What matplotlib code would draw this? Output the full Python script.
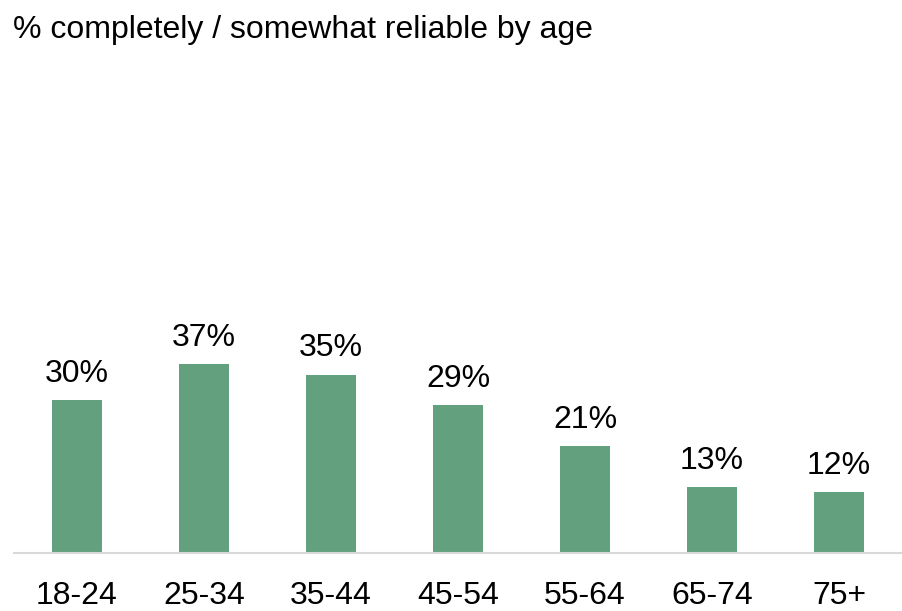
import matplotlib
matplotlib.use("Agg")
import matplotlib.pyplot as plt

plt.rcParams['font.family'] = ['Liberation Sans', 'DejaVu Sans']

age_groups = ["18-24", "25-34", "35-44", "45-54", "55-64", "65-74", "75+"]
reliable_pct = [30, 37, 35, 29, 21, 13, 12]

bar_color = "#62A07E"

fig = plt.figure(figsize=(9.03, 6.11), dpi=100)
# axes spans the plotting area: left/right edges of the category band, baseline at bottom
ax = fig.add_axes([13.5 / 903, (611 - 553) / 611, 889 / 903, 493 / 611])

x = list(range(len(age_groups)))
bars = ax.bar(x, reliable_pct, width=0.4, color=bar_color, zorder=2)

ax.set_xlim(-0.5, len(age_groups) - 0.5)
ax.set_ylim(0, 96.7)

for xi, v in zip(x, reliable_pct):
    ax.annotate(f"{v}%", (xi, v), xytext=(0, 8), textcoords="offset points",
                ha="center", va="bottom", fontsize=23, color="#000000")

ax.set_xticks(x)
ax.set_xticklabels(age_groups, fontsize=23)
ax.tick_params(axis="x", length=0, pad=20)
ax.set_yticks([])

for side in ("top", "right", "left"):
    ax.spines[side].set_visible(False)
ax.spines["bottom"].set_color("#D9D9D9")
ax.spines["bottom"].set_linewidth(1.5)

fig.text(13 / 903, 1 - 38 / 611, "% completely / somewhat reliable by age",
         fontsize=23, ha="left", va="baseline", color="#000000")

fig.savefig("out.png", dpi=100)
